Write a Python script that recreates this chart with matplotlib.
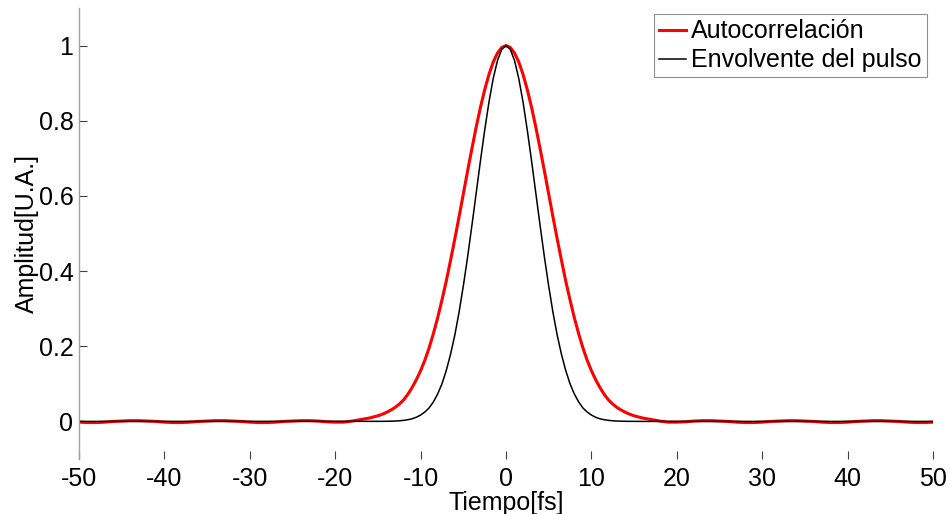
import numpy as np
import matplotlib
matplotlib.use("Agg")
import matplotlib.pyplot as plt
from matplotlib.ticker import FormatStrFormatter

# sample times (fs)
tiempo = np.concatenate([np.arange(-50, -15), np.arange(-15, 15.5, 0.5), np.arange(16, 51)])

autocorr_left = [-0.002, -0.003, -0.003, -0.002, 0.000, 0.001, 0.002, 0.002, 0.001, 0.000,
                 -0.002, -0.003, -0.003, -0.002, 0.000, 0.001, 0.002, 0.002, 0.001, 0.000,
                 -0.002, -0.003, -0.003, -0.002, 0.000, 0.001, 0.002, 0.002, 0.001, -0.001,
                 -0.002, -0.002, 0.001, 0.005, 0.009]
autocorr_center = [0.015, 0.019, 0.024, 0.030, 0.037, 0.046, 0.057, 0.072, 0.090, 0.111,
                   0.135, 0.163, 0.196, 0.234, 0.276, 0.323, 0.373, 0.428, 0.485, 0.544,
                   0.605, 0.666, 0.725, 0.782, 0.835, 0.882, 0.923, 0.956, 0.980, 0.995,
                   1.000,
                   0.995, 0.980, 0.956, 0.923, 0.882, 0.835, 0.782, 0.725, 0.666, 0.605,
                   0.544, 0.485, 0.428, 0.373, 0.323, 0.276, 0.234, 0.196, 0.163, 0.135,
                   0.111, 0.090, 0.072, 0.057, 0.046, 0.037, 0.030, 0.024, 0.019, 0.015]
autocorr_right = [0.009, 0.005, 0.001, -0.002, -0.002, -0.001, 0.001, 0.002, 0.002, 0.001,
                  0.000, -0.002, -0.003, -0.003, -0.002, 0.000, 0.001, 0.002, 0.002, 0.001,
                  0.000, -0.002, -0.003, -0.003, -0.002, 0.000, 0.001, 0.002, 0.002, 0.001,
                  0.000, -0.002, -0.003, -0.003, -0.002]

envolvente_left = [0.0] * 35
envolvente_center = [0.0001, 0.0002, 0.0003, 0.0006, 0.0010, 0.0017, 0.0028, 0.0045, 0.007, 0.011,
                     0.017, 0.025, 0.036, 0.052, 0.073, 0.100, 0.135, 0.178, 0.229, 0.290,
                     0.360, 0.437, 0.520, 0.606, 0.692, 0.774, 0.849, 0.912, 0.960, 0.990,
                     1.000,
                     0.990, 0.960, 0.912, 0.849, 0.774, 0.692, 0.606, 0.520, 0.437, 0.360,
                     0.290, 0.229, 0.178, 0.135, 0.100, 0.073, 0.052, 0.036, 0.025, 0.017,
                     0.011, 0.007, 0.0045, 0.0028, 0.0017, 0.0010, 0.0006, 0.0003, 0.0002, 0.0001]
envolvente_right = [0.0] * 35

autocorrelacion = autocorr_left + autocorr_center + autocorr_right
envolvente = envolvente_left + envolvente_center + envolvente_right

xticks = [-50, -40, -30, -20, -10, 0, 10, 20, 30, 40, 50]
yticks = [0, 0.2, 0.4, 0.6, 0.8, 1]

plt.rcParams['font.family'] = ['Liberation Sans', 'DejaVu Sans']
plt.rcParams['axes.unicode_minus'] = False
FS = 18

fig = plt.figure(figsize=(9.49, 5.14), dpi=100)
ax = fig.add_axes([79 / 949, 1 - 459 / 514, (933 - 79) / 949, (459 - 8) / 514])

ax.plot(tiempo, autocorrelacion, color='#ff0000', lw=2.2, label='Autocorrelación')
ax.plot(tiempo, envolvente, color='black', lw=1.1, label='Envolvente del pulso')

ax.set_xlim(-50, 50)
ax.set_ylim(-0.1, 1.1)
ax.set_xticks(xticks)
ax.set_yticks(yticks)
ax.yaxis.set_major_formatter(FormatStrFormatter('%g'))

for s in ['top', 'right', 'bottom']:
    ax.spines[s].set_visible(False)
ax.spines['left'].set_color('#a0a0a0')
ax.spines['left'].set_linewidth(1.0)

ax.tick_params(axis='both', direction='in', length=6, width=0.8, color='#404040',
               labelsize=FS, labelcolor='black')
ax.tick_params(axis='x', pad=6)
ax.tick_params(axis='y', pad=4)

ax.set_xlabel('Tiempo[fs]', fontsize=FS, labelpad=0)
ax.set_ylabel('Amplitud[U.A.]', fontsize=FS, labelpad=0)

leg = ax.legend(loc='upper right', fontsize=FS, frameon=True, fancybox=False,
                handlelength=1.1, handletextpad=0.2, labelspacing=0.2,
                borderpad=0.2, borderaxespad=0.25, framealpha=1)
leg.get_frame().set_edgecolor('#909090')
leg.get_frame().set_linewidth(0.8)

fig.savefig('out.png', dpi=100)
